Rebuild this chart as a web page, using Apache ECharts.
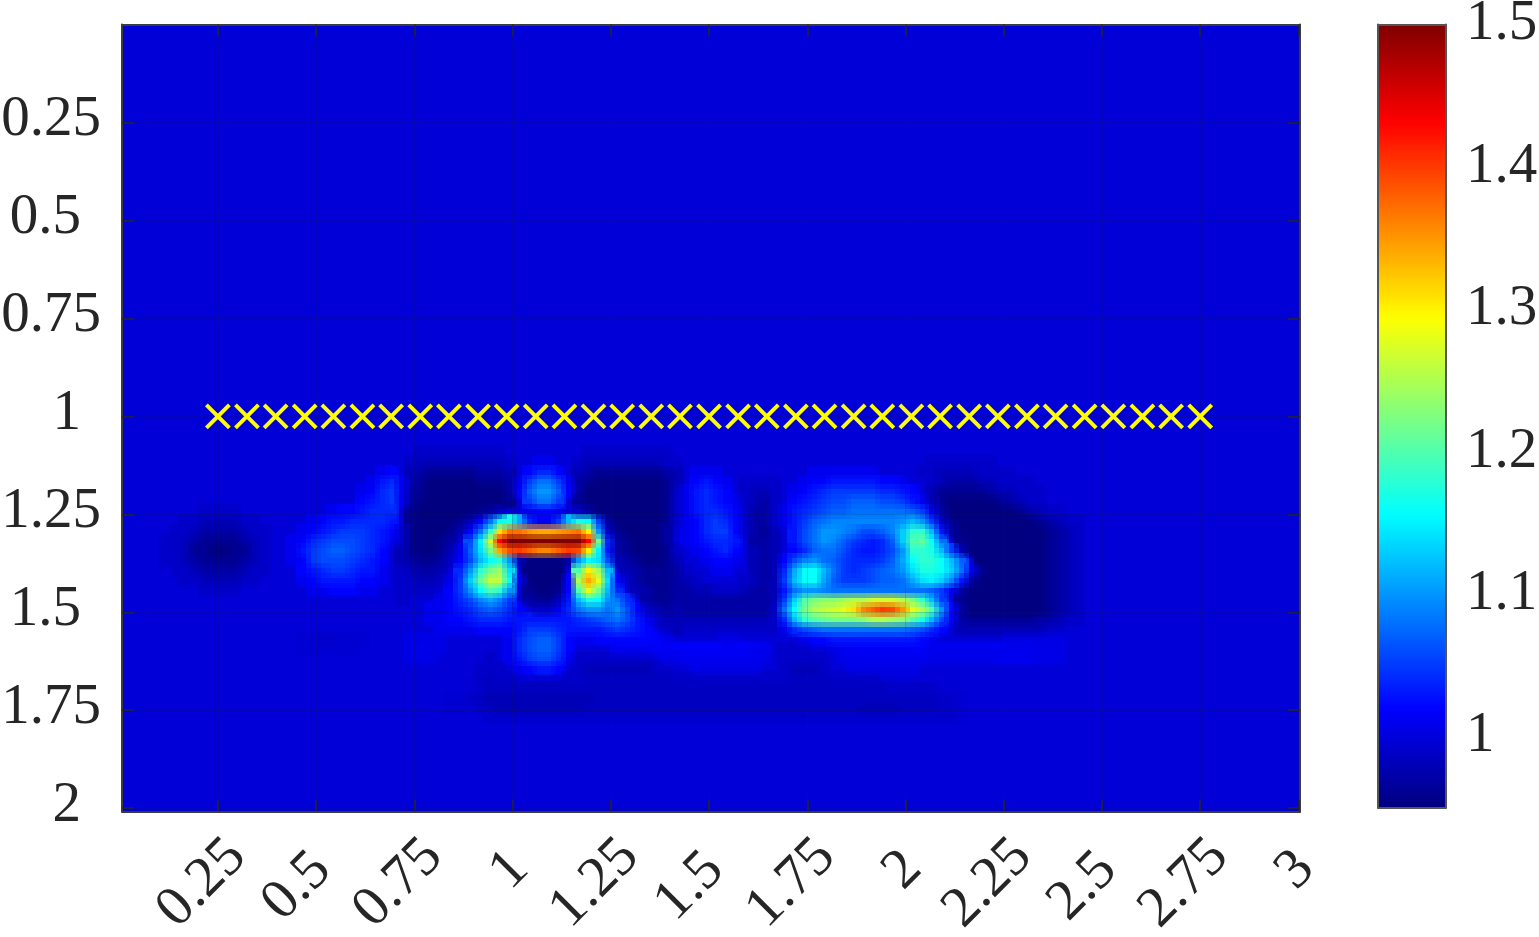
<!DOCTYPE html>
<html>
<head>
<meta charset="utf-8">
<style>
  html, body { margin: 0; padding: 0; background: #fff; }
  #chart { width: 1539px; height: 937px; }
</style>
<script src="https://cdn.jsdelivr.net/npm/echarts@6/dist/echarts.min.js"></script>
</head>
<body>
<div id="chart"></div>
<script>
const xTicks = [0.25, 0.5, 0.75, 1, 1.25, 1.5, 1.75, 2, 2.25, 2.5, 2.75, 3];
const yTicks = [0.25, 0.5, 0.75, 1, 1.25, 1.5, 1.75, 2];
const cbTicks = [1, 1.1, 1.2, 1.3, 1.4, 1.5];
const crossX = [0.25, 0.324, 0.397, 0.471, 0.544, 0.618, 0.691, 0.765, 0.838, 0.912, 0.985, 1.059, 1.132, 1.206, 1.279, 1.353, 1.426, 1.5, 1.574, 1.647, 1.721, 1.794, 1.868, 1.941, 2.015, 2.088, 2.162, 2.235, 2.309, 2.382, 2.456, 2.529, 2.603, 2.676, 2.75];
const crossY = 1;
const jet = ['#000080', '#0000ff', '#007fff', '#00ffff', '#7fff7f', '#ffff00', '#ff7f00', '#ff0000', '#7f0000'];

// cell grid is 120 x 80, values are hundredths
const nCols = 120;
const nRows = 80;
const baseValue = 99.7;
const firstCol = 4;
const firstRow = 43;
const cells = [
[100,100,100,100,100,100,100,100,100,100,100,100, 100,100,100,100,100,100,100,100,100,100,100,100,100, 100,99,99,99,99,99,99,99, 99,99,100,100,100,100,100,100,100,100,99,99,99, 99,99,99,99,99,99,100, 100,100,100,100,100,100,100,100,100, 100,100,100,100,100,100,100,100,100,100,100,100,100,100,100,100,100,100,100,100,100, 100,100,100,100,100,100,100,100,100,100,100,100,100],
[100,100,100,100,100,100,100,100,100,100,100,100, 100,100,100,100,100,100,100,100,100,100,100,100,100, 99,98,98,98,98,98,98,98, 98,98,99,100,100,101,101,100,100,99,98,98,98, 98,98,98,98,98,99,99, 100,100,100,100,100,100,100,100,100, 100,100,100,100,100,100,100,100,100,100,100,100,100,100,100,100,99,99,99,99,99, 99,99,100,100,100,100,100,100,100,100,100,100,100],
[100,100,100,100,100,100,100,100,100,100,100,100, 100,100,100,100,100,100,100,100,100,100,101,102,100, 98,97,96,96,96,96,96,97, 97,97,98,100,102,104,104,102,100,98,97,96,96, 96,96,96,96,96,97,98, 100,101,101,101,100,100,100,100,100, 100,100,100,100,101,101,101,101,101,101,101,100,100,100,100,99,99,98,98,98,98, 99,99,99,99,100,100,100,100,100,100,100,100,100],
[100,100,100,100,100,100,100,100,100,100,100,100, 100,100,100,100,100,100,100,100,100,101,103,104,101, 98,96,95,95,95,95,95,96, 96,96,97,101,105,108,108,105,101,97,96,95,95, 95,95,95,95,95,96,98, 100,102,103,102,101,100,99,99,99, 99,100,100,101,102,102,103,103,103,103,103,102,102,101,100,100,99,98,97,97,97, 98,98,99,99,99,99,100,100,100,100,100,100,100],
[100,100,100,100,100,100,100,100,100,100,100,100, 100,100,100,100,100,100,100,100,101,102,104,105,101, 97,96,95,95,95,95,95,95, 95,95,97,102,107,110,110,107,102,97,95,95,95, 95,95,95,95,95,96,99, 101,103,104,103,102,100,99,98,98, 99,100,101,102,103,104,105,105,105,105,105,104,104,103,102,100,98,96,96,96,96, 96,97,98,98,99,99,99,100,100,100,100,100,100],
[100,100,100,100,100,100,100,100,100,100,100,100, 100,100,100,100,100,100,100,100,102,103,104,105,101, 97,95,95,95,95,95,95,95, 95,95,96,100,105,108,108,105,100,96,95,95,95, 95,95,95,95,95,96,99, 101,103,104,103,102,101,99,98,97, 99,100,102,103,104,105,106,106,107,107,107,106,106,105,103,101,98,96,95,95,95, 95,95,96,97,98,99,99,100,100,100,100,100,100],
[100,100,100,100,99,99,99,99,100,100,100,100, 100,100,100,100,100,101,102,102,103,104,104,104,100, 96,95,95,95,95,95,95,96, 97,99,100,100,101,102,102,101,100,99,97,95,95, 95,95,95,95,95,96,99, 101,103,104,104,103,102,99,97,97, 99,101,103,104,105,106,107,107,108,108,108,108,108,108,107,105,101,97,95,95,95, 95,95,95,95,96,97,98,99,99,100,100,100,100],
[100,100,99,99,98,98,98,98,99,99,100,100, 100,100,100,101,102,103,103,104,104,104,104,103,100, 96,95,95,95,95,96,98,102, 108,116,117,111,104,101,101,105,112,117,116,105,97, 95,95,95,95,95,96,99, 101,102,104,105,104,102,99,97,97, 99,101,103,105,107,108,109,109,109,109,109,109,109,110,112,110,105,99,96,95,95, 95,95,95,95,95,95,96,97,98,99,99,100,100],
[100,99,99,98,97,97,97,97,98,99,99,100, 100,100,101,102,103,104,105,105,105,104,103,102,99, 96,95,95,95,96,98,102,108, 118,131,137,137,135,134,134,135,136,137,130,110,99, 96,95,95,95,95,97,100, 101,102,104,105,105,102,99,97,96, 98,100,103,106,108,110,110,109,108,106,106,107,109,113,118,118,112,103,97,95,95, 95,95,95,95,95,95,95,96,97,98,99,100,100],
[99,99,98,97,96,96,96,96,97,98,99,100, 100,101,102,104,105,106,106,106,105,104,103,101,99, 96,95,95,96,97,100,106,115, 127,143,150,150,150,150,150,150,150,150,143,122,104, 97,96,95,95,95,97,100, 101,102,103,104,104,103,100,97,97, 98,100,103,106,108,110,109,107,105,104,103,104,107,113,120,121,116,108,100,96,95, 95,95,95,95,95,95,95,96,97,98,99,100,100],
[99,99,98,96,96,95,95,96,96,98,99,100, 100,101,103,105,106,107,107,106,105,104,102,100,98, 96,95,95,96,98,101,107,114, 122,134,139,140,138,136,136,138,140,139,130,115,103, 97,96,95,95,95,96,99, 100,101,102,103,104,102,100,98,97, 98,100,102,104,107,108,108,106,104,103,103,104,106,110,118,118,117,112,105,98,95, 95,95,95,95,95,95,95,96,97,98,99,100,100],
[99,99,98,97,96,96,96,96,97,98,99,100, 100,101,102,105,106,106,106,105,104,103,102,100,98, 97,96,96,97,99,102,106,112, 116,118,110,98,95,95,95,95,97,110,116,114,106, 98,97,96,95,95,96,98, 100,100,101,102,102,101,100,98,97, 98,102,106,109,110,108,107,105,104,104,104,105,107,111,116,118,118,116,112,107,100, 95,95,95,95,95,95,95,96,97,98,99,100,100],
[100,99,99,98,97,97,97,97,98,99,99,100, 100,100,102,103,104,105,105,104,103,103,101,100,99, 98,97,97,98,100,104,110,118, 122,124,114,100,95,95,95,95,100,120,130,124,112, 100,98,97,96,96,96,97, 99,100,100,101,101,100,100,98,97, 98,104,111,116,116,112,108,105,104,105,106,107,108,110,114,117,117,116,113,108,101, 96,95,95,95,95,95,95,96,97,98,99,100,100],
[100,100,99,99,98,98,98,98,99,99,100,100, 100,100,101,102,103,103,103,103,102,102,101,100,99, 99,98,98,99,101,105,113,121, 126,126,116,101,95,95,95,95,102,125,134,128,114, 102,99,97,96,96,96,97, 98,99,100,100,100,100,99,98,97, 98,105,112,116,116,111,107,105,105,105,106,107,107,108,111,114,115,113,109,103,97, 95,95,95,95,95,95,95,96,97,98,99,100,100],
[100,100,100,100,99,99,99,99,100,100,100,100, 100,100,100,101,101,102,102,102,101,101,100,100,99, 99,99,99,100,102,105,110,116, 120,118,110,100,96,95,95,96,102,120,128,122,112, 104,100,98,97,96,96,97, 97,98,98,99,99,99,98,97,97, 98,103,108,110,110,109,108,108,108,108,108,108,108,108,108,108,107,105,101,97,95, 95,95,95,95,95,95,95,96,97,98,99,100,100],
[100,100,100,100,100,100,100,100,100,100,100,100, 100,100,100,100,100,100,100,100,100,100,100,100,99, 100,100,100,101,102,104,106,109, 111,109,105,100,97,96,96,98,103,112,117,116,110, 108,104,100,97,96,96,97, 97,97,97,97,97,97,97,97,97, 98,105,113,120,122,123,123,124,125,125,127,127,127,125,122,118,112,105,100,96,95, 95,95,95,95,95,95,95,96,97,98,99,100,100],
[100,100,100,100,100,100,100,100,100,100,100,100, 100,100,100,100,100,100,100,100,100,100,100,100,100, 100,100,101,101,102,103,104,106, 107,106,104,102,100,99,99,101,104,108,110,110,108, 110,106,102,99,98,97,98, 97,97,97,97,97,97,97,97,97, 99,108,116,122,125,126,127,128,131,136,138,140,139,135,128,125,120,110,102,97,95, 95,95,95,95,95,95,95,96,97,98,99,100,100],
[100,100,100,100,100,100,100,100,100,100,100,100, 100,100,100,100,100,100,100,100,100,100,100,100,100, 100,100,101,101,102,102,103,104, 104,104,103,103,103,103,103,103,103,104,105,106,107, 108,106,103,101,99,98,98, 98,98,98,98,98,98,98,98,98, 99,104,112,118,120,121,122,122,122,123,125,125,124,123,120,117,112,106,101,97,96, 96,96,96,96,96,96,97,97,98,99,99,100,100],
[100,100,100,100,100,100,100,100,100,100,100,100, 100,100,100,100,100,100,100,100,100,100,100,100,100, 100,100,100,101,101,101,101,102, 102,102,102,103,105,105,105,104,103,103,103,103,104, 105,104,103,102,100,99,98, 99,99,99,99,99,99,99,99,99, 99,101,104,106,107,108,108,108,108,108,108,108,108,108,107,106,104,102,100,98,98, 98,98,98,98,98,98,98,99,99,100,100,100,100],
[100,100,100,100,100,100,100,100,100,100,100,100, 100,100,99.5,99.5,99,99,99.5,99.5,99.5,100,100,100,100, 100.5,100.5,100.5,100.5,100,100,100,100, 100,100,101,104,106,107,107,105,102,101,101,102,102, 102,102,102,102,101.5,101,100, 100,100,100,100,100.5,100.5,100,100,100, 100,100,100,101,102,102,103,103,103,103,103,103,103,103,103,102,101,100,100,100,100, 100,100,100,100.5,100.5,100.5,100.5,100.5,100.5,100,100,100,100],
[100,100,100,100,100,100,100,100,100,100,100,100, 100,100,99.5,99.5,99.5,99.5,99.5,99.5,100,100,100,100,100, 100.5,101,100.5,100.5,100,100,100,100, 100,100,101,104,106,107,107,105,102,100,100,100,100, 101,101,101,101,101.5,101.5,101.5, 101.5,101.5,101.5,101.5,101.5,101.5,101.5,101,101, 100,99,99,99,100,100,100.5,101,101.5,101.5,101.5,101.5,101.5,101.5,101.5,101.5,101,101,101,101,101, 101,101,101,101,101,101,100.5,100.5,100.5,100,100,100,100],
[100,100,100,100,100,100,100,100,100,100,100,100, 100,100,100,100,100,100,100,100,100,100,100,100,100, 100.5,100.5,100.5,100,100,100,100,100, 99,100,101,103,105,106,106,104,101,99,99,99,99, 99,99,99,99,100,100.5,100.5, 101,101,101,101,101,101,101,101,100.5, 100,99,99,99,99,99,100,100.5,101,101,101,101,101,101,101,101,100.5,100.5,100.5,100.5,100.5, 100.5,100.5,101,101,101,101,100.5,100.5,100.5,100,100,100,100],
[100,100,100,100,100,100,100,100,100,100,100,100, 100,100,100,100,100,100,100,100,100,100,100,100,100, 100,100,100,100,100,100,100,99, 99,99,100,101,102,103,103,102,100,99,98,98,98, 98,98,98,98,99,99,100, 100,100.5,100.5,100.5,100.5,100.5,100.5,100.5,100, 100,99,98,98,98,99,100,100,100.5,100.5,100.5,100.5,100.5,100.5,100.5,100,100,100,100,100,100, 100,100,100,100,100,100,100,100,100,100,100,100,100],
[100,100,100,100,100,100,100,100,100,100,100,100, 100,100,100,100,100,100,100,100,100,100,100,100,100, 100,100,100,100,100,100,100,99, 98.5,99,99,100,100,100,100,100,99,99,98.5,98.5,98.5, 98.5,98.5,98.5,98.5,98.5,98.5,99, 99,99,99,99,99,99,99,99,99, 99,99,98.5,98.5,98.5,98.5,99,99,99,99,99,100,100,100,100,100,100,100,100,100,100, 100,100,100,100,100,100,100,100,100,100,100,100,100],
[100,100,100,100,100,100,100,100,100,100,100,100, 100,100,100,100,100,100,100,100,100,100,100,100,100, 100,100,100,100,100,100,99.5,99, 98.5,98.5,98.5,98.5,98.5,98.5,98.5,98.5,98.5,98.5,98.5,98.5,98.5, 98.5,98.5,98.5,98.5,98.5,98.5,98.5, 98.5,98.5,98.5,98.5,98.5,98.5,98.5,98.5,98.5, 98.5,98.5,98.5,98.5,98.5,98.5,98.5,98.5,98.5,98.5,98.5,98.5,99,99,99,99,99,99.5,99.5,100,100, 100,100,100,100,100,100,100,100,100,100,100,100,100],
[100,100,100,100,100,100,100,100,100,100,100,100, 100,100,100,100,100,100,100,100,100,100,100,100,100, 100,100,100,100,99.5,99.5,99,98.5, 98,98,98,98,98,98,98,98,98,98,98,98.5,98.5, 98.5,98.5,98.5,98.5,98.5,98.5,98.5, 98.5,98.5,98.5,98.5,98.5,98.5,98.5,98.5,98.5, 98.5,98.5,98.5,98.5,98.5,98.5,98.5,98.5,98.5,98.5,98.5,98.5,98.5,98.5,98.5,98.5,98.5,99,99,99.5,100, 100,100,100,100,100,100,100,100,100,100,100,100,100],
[100,100,100,100,100,100,100,100,100,100,100,100, 100,100,100,100,100,100,100,100,100,100,100,100,100, 100,100,100,100,99.5,99.5,99.5,99, 98.5,98,98,98,98,98,98,98,98,98,98.5,98.5,98.5, 98.5,98.5,98.5,98.5,98.5,98.5,98.5, 98.5,98.5,98.5,98.5,98.5,98.5,98.5,98.5,98.5, 98.5,98.5,98.5,98.5,98.5,98.5,98.5,98.5,98.5,98,98,98,98,98.5,98.5,98.5,98.5,99,99,99.5,100, 100,100,100,100,100,100,100,100,100,100,100,100,100],
[100,100,100,100,100,100,100,100,100,100,100,100, 100,100,100,100,100,100,100,100,100,100,100,100,100, 100,100,100,100,100,100,100,100, 99.2,99.2,99.2,99.2,99.2,99.2,99.2,99.2,99.2,99.2,99.2,99.2,99.2, 99.2,99.2,99.2,99.2,99.2,99.2,99.2, 99.2,99.2,99.2,99.2,99.2,99.2,99.2,99.2,99.2, 99.2,99.2,99.2,99.2,99.2,99.2,99.2,99.2,99.2,99.2,99.2,99.2,99.2,99.2,99.2,99.2,99.2,99.2,99.2,99.5,100, 100,100,100,100,100,100,100,100,100,100,100,100,100]
];

// 100 in the table means the flat background level
const heatData = [];
const focusData = [];
for (let r = 0; r < nRows; r++) {
  for (let c = 0; c < nCols; c++) {
    const row = cells[r - firstRow];
    let v = row ? row[c - firstCol] : undefined;
    if (v === undefined || v === 100) v = baseValue;
    heatData.push([c, r, v / 100]);
    if (v !== baseValue) focusData.push([c, r, v / 100]);
  }
}

const colNames = Array.from({ length: nCols }, (_, i) => String(i));
const rowNames = Array.from({ length: nRows }, (_, i) => String(i));
const crossData = crossX.map(x => [x, crossY]);

const textColor = '#262626';
const frameColor = '#3c3c3c';
const fontFamily = '"Liberation Serif", serif';
const labelFont = { fontFamily: fontFamily, fontSize: 57, color: textColor };
const gridLine = { show: true, lineStyle: { color: 'rgba(30,30,30,0.16)', width: 1 } };
const tickStyle = { inside: true, length: 12, lineStyle: { color: textColor, width: 1.5 } };
const frameLine = { show: true, onZero: false, lineStyle: { color: frameColor, width: 2 } };
const cbFrame = { show: true, onZero: false, lineStyle: { color: '#555555', width: 2 } };
const xRange = { type: 'value', min: 0.006, max: 3.004, z: 5, axisLine: frameLine };
const yRange = { type: 'value', inverse: true, min: 0, max: 2.0085, z: 5, axisLine: frameLine };

// the source image is about twice as fine as the table, so each cell is stacked
// a quarter cell off in each direction and averaged
function cellRenderer(dx, dy, opacity) {
  return function (params, api) {
    const p = api.coord([api.value(0), api.value(1)]);
    const s = api.size([1, 1]);
    const x0 = Math.round(p[0] + (dx - 0.5) * s[0]);
    const x1 = Math.round(p[0] + (dx + 0.5) * s[0]);
    const y0 = Math.round(p[1] + (dy - 0.5) * s[1]);
    const y1 = Math.round(p[1] + (dy + 0.5) * s[1]);
    return {
      type: 'rect',
      shape: { x: x0, y: y0, width: x1 - x0, height: y1 - y0 },
      style: { fill: api.visual('color'), opacity: opacity }
    };
  };
}
function cellSeries(data, dx, dy, opacity) {
  return {
    type: 'custom',
    xAxisIndex: 2,
    yAxisIndex: 2,
    data: data,
    encode: { x: 0, y: 1 },
    renderItem: cellRenderer(dx, dy, opacity),
    progressive: 0,
    silent: true,
    clip: true,
    z: 2
  };
}

const chart = echarts.init(document.getElementById('chart'), null, { renderer: 'canvas' });
chart.setOption({
  animation: false,
  backgroundColor: '#ffffff',
  grid: [
    { left: 122, top: 24.5, width: 1178, height: 787, outerBoundsMode: 'none' },
    { left: 1378, top: 24.5, width: 68, height: 783, outerBoundsMode: 'none' }
  ],
  visualMap: {
    type: 'continuous',
    seriesIndex: [0, 1, 2, 3, 4],
    dimension: 2,
    min: 0.95,
    max: 1.5,
    left: 1378,
    top: 24.5,
    padding: 0,
    itemWidth: 68,
    itemHeight: 783,
    calculable: false,
    realtime: false,
    hoverLink: false,
    showLabel: false,
    text: null,
    inRange: { color: jet }
  },
  xAxis: [
    {
      ...xRange, gridIndex: 0, position: 'bottom',
      splitLine: gridLine,
      axisTick: { ...tickStyle, customValues: xTicks },
      axisLabel: {
        customValues: xTicks, rotate: 45, margin: 56, align: 'center', verticalAlign: 'middle',
        formatter: v => {
          const s = String(v);
          return '{l' + s.length + '|' + s + '}';
        },
        rich: {
          l1: { ...labelFont, padding: [0, 8, 0, 0] },
          l3: { ...labelFont, padding: [0, 54, 0, 0] },
          l4: { ...labelFont, padding: [0, 45, 0, 0] }
        }
      }
    },
    {
      ...xRange, gridIndex: 0, position: 'top',
      splitLine: { show: false },
      axisTick: { ...tickStyle, customValues: xTicks },
      axisLabel: { show: false }
    },
    { type: 'category', gridIndex: 0, data: colNames, show: false, boundaryGap: true },
    {
      type: 'category', gridIndex: 1, data: [''], position: 'bottom', z: 6,
      axisLine: cbFrame, axisTick: { show: false }, axisLabel: { show: false }
    },
    {
      type: 'category', gridIndex: 1, data: [''], position: 'top', z: 6,
      axisLine: cbFrame, axisTick: { show: false }, axisLabel: { show: false }
    }
  ],
  yAxis: [
    {
      ...yRange, gridIndex: 0, position: 'left',
      splitLine: gridLine,
      axisTick: { ...tickStyle, customValues: yTicks },
      axisLabel: {
        customValues: yTicks, margin: 21,
        formatter: v => {
          const s = String(v);
          return (s.length === 4 ? '{long|' : '{short|') + s + '}';
        },
        rich: {
          long: { ...labelFont, padding: [0, 0, 5, 0] },
          short: { ...labelFont, padding: [0, 20, 5, 0] }
        }
      }
    },
    {
      ...yRange, gridIndex: 0, position: 'right',
      splitLine: { show: false },
      axisTick: { ...tickStyle, customValues: yTicks },
      axisLabel: { show: false }
    },
    { type: 'category', gridIndex: 0, data: rowNames, inverse: true, show: false, boundaryGap: true },
    {
      type: 'value', gridIndex: 1, position: 'right', min: 0.95, max: 1.5, z: 6,
      axisLine: cbFrame,
      splitLine: { show: false },
      axisTick: { inside: true, length: 8, customValues: cbTicks, lineStyle: { color: textColor, width: 1.5 } },
      axisLabel: { ...labelFont, customValues: cbTicks, margin: 20, formatter: v => String(v) }
    },
    {
      type: 'value', gridIndex: 1, position: 'left', min: 0.95, max: 1.5, z: 6,
      axisLine: cbFrame,
      splitLine: { show: false },
      axisTick: { show: false },
      axisLabel: { show: false }
    }
  ],
  series: [
    cellSeries(heatData, 0, 0, 1),
    cellSeries(focusData, -0.25, -0.25, 1),
    cellSeries(focusData, 0.25, -0.25, 1 / 2),
    cellSeries(focusData, -0.25, 0.25, 1 / 3),
    cellSeries(focusData, 0.25, 0.25, 1 / 4),
    {
      type: 'scatter',
      xAxisIndex: 0,
      yAxisIndex: 0,
      data: crossData,
      symbol: 'path://M0 0L10 10M10 0L0 10',
      symbolSize: 23,
      silent: true,
      itemStyle: { color: 'none', borderColor: '#ffff00', borderWidth: 4, opacity: 1 },
      z: 8
    }
  ]
});
</script>
</body>
</html>
